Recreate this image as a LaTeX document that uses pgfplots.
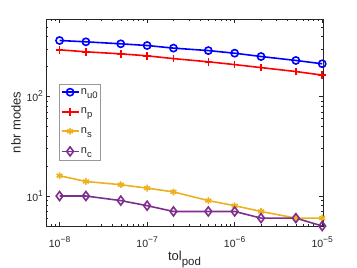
\documentclass[border=0pt]{standalone}
\usepackage{fontspec}
\setmainfont{Liberation Sans}
\usepackage{pgfplots}
\pgfplotsset{compat=1.18}
\definecolor{mblue}{rgb}{0,0,1}
\definecolor{mred}{rgb}{1,0,0}
\definecolor{myellow}{rgb}{0.929,0.694,0.125}
\definecolor{mpurple}{rgb}{0.494,0.184,0.556}
\definecolor{axgray}{rgb}{0.15,0.15,0.15}
\newcommand\tsup[1]{\raisebox{5pt}{\fontsize{8.5}{9}\selectfont #1}}
\newcommand\lsub[1]{\fontsize{11}{12}\selectfont n\raisebox{-4pt}{\fontsize{9.5}{10}\selectfont #1}}
\begin{document}
\begin{tikzpicture}
\useasboundingbox (-46pt,-42pt) rectangle (311pt,226pt);
\begin{axis}[
  scale only axis, width=277pt, height=207pt,
  xmode=log, ymode=log,
  xmin=7e-9, xmax=1.02e-5, ymin=5, ymax=600,
  xtick={1e-8,1e-7,1e-6,1e-5},
  xticklabels={10\tsup{−8},10\tsup{−7},10\tsup{−6},10\tsup{−5}},
  minor xtick={8e-9,9e-9,2e-8,3e-8,4e-8,5e-8,6e-8,7e-8,8e-8,9e-8,2e-7,3e-7,4e-7,5e-7,6e-7,7e-7,8e-7,9e-7,2e-6,3e-6,4e-6,5e-6,6e-6,7e-6,8e-6,9e-6},
  ytick={10,100},
  yticklabels={10\tsup{1},10\tsup{2}},
  minor ytick={6,7,8,9,20,30,40,50,60,70,80,90,200,300,400,500},
  tick align=inside,
  major tick length=4pt, minor tick length=2pt,
  axis line style={axgray, line width=0.5pt},
  every tick/.style={axgray, line width=0.5pt},
  tick label style={font=\fontsize{10.5}{11}\selectfont, text=axgray},
  xticklabel style={anchor=base, yshift=-21.5pt},
  yticklabel style={xshift=0.5pt},
  every axis x label/.style={at={(axis description cs:0.5,-0.169)}, anchor=base, font=\fontsize{13}{14}\selectfont, text=axgray},
  every axis y label/.style={at={(axis description cs:-0.108,0.5)}, rotate=90, anchor=center, font=\fontsize{13}{14}\selectfont, text=axgray},
  xlabel={tol\raisebox{-4.5pt}{\fontsize{11.5}{12}\selectfont pod}},
  ylabel={nbr modes},
  legend style={at={(0.047,0.318)}, anchor=south west, draw=black!40, line width=0.5pt,
    row sep=12pt, inner xsep=1.5pt, inner ysep=4pt,
    nodes={text=axgray, inner xsep=1.5pt, inner ysep=0pt}},
  legend cell align=left,
  every axis plot/.append style={line width=1.6pt},
]
\addplot[mblue, mark=o, mark size=3.6pt] coordinates {
(1e-8,365) (2e-8,354) (5e-8,338) (1e-7,325) (2e-7,306) (5e-7,289) (1e-6,272) (2e-6,252) (5e-6,230) (1e-5,213)};
\addlegendentry{\lsub{u0}}
\addplot[mred, mark=+, mark size=3.8pt] coordinates {
(1e-8,294) (2e-8,281) (5e-8,268) (1e-7,256) (2e-7,240) (5e-7,223) (1e-6,209) (2e-6,195) (5e-6,178) (1e-5,164)};
\addlegendentry{\lsub{p}}
\addplot[myellow, mark=asterisk, mark size=3.4pt] coordinates {
(1e-8,16) (2e-8,14) (5e-8,13) (1e-7,12) (2e-7,11) (5e-7,9) (1e-6,8) (2e-6,7) (5e-6,6) (1e-5,6)};
\addlegendentry{\lsub{s}}
\addplot[mpurple, mark=diamond, mark size=4.5pt] coordinates {
(1e-8,10) (2e-8,10) (5e-8,9) (1e-7,8) (2e-7,7) (5e-7,7) (1e-6,7) (2e-6,6) (5e-6,6) (1e-5,5)};
\addlegendentry{\lsub{c}}
\end{axis}
\end{tikzpicture}
\end{document}
